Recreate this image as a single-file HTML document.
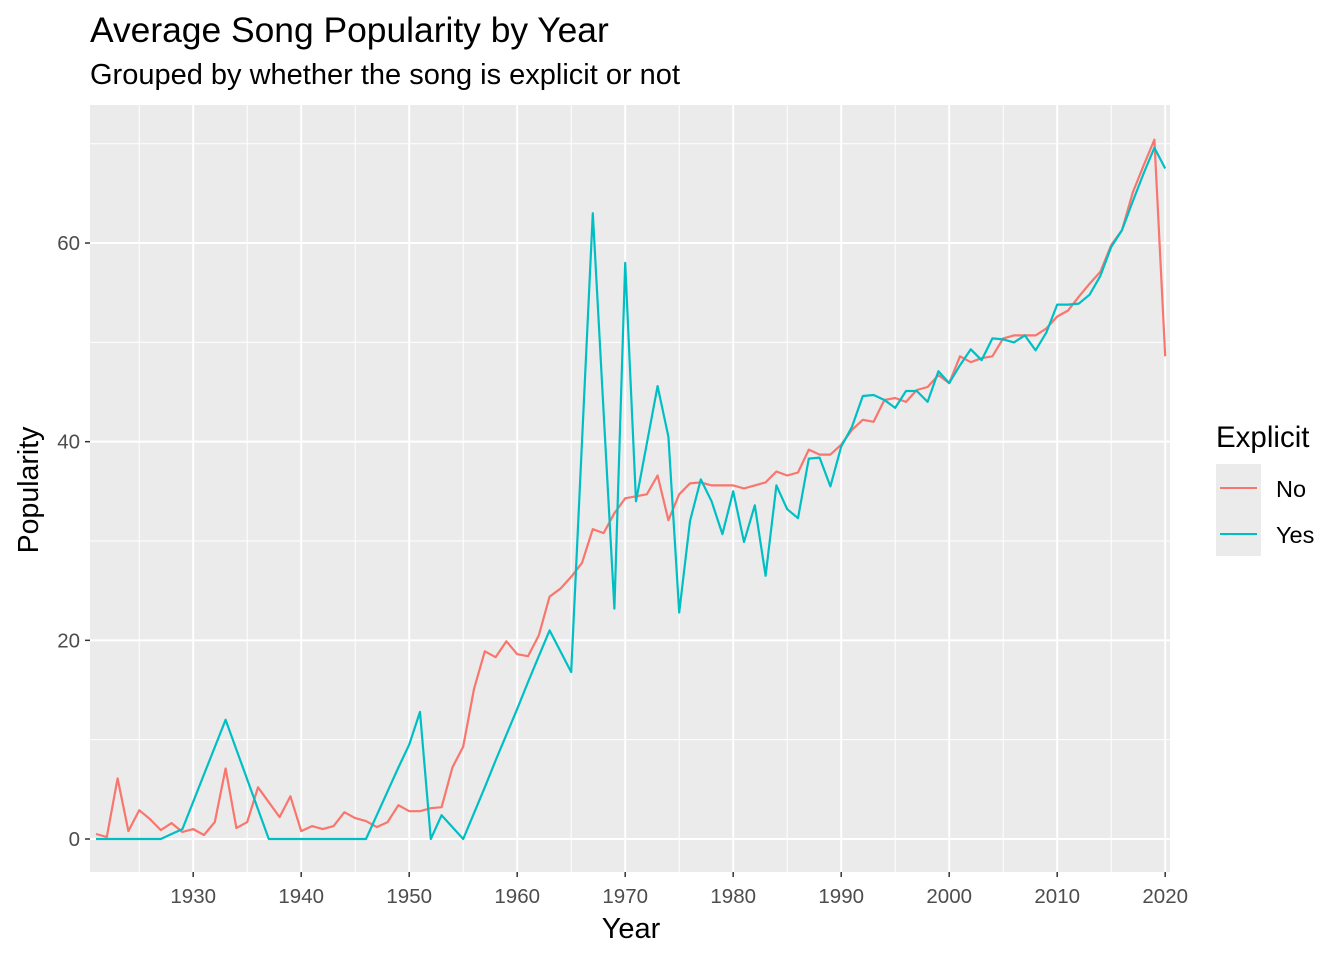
<!DOCTYPE html>
<html><head><meta charset="utf-8"><style>
body{margin:0;background:#fff;font-family:"Liberation Sans",sans-serif;}
</style></head><body>
<svg width="1344" height="960" xmlns="http://www.w3.org/2000/svg" font-family="Liberation Sans, sans-serif">
<text x="90" y="42" font-size="35.4" fill="#000">Average Song Popularity by Year</text>
<text x="90" y="84" font-size="29" fill="#000">Grouped by whether the song is explicit or not</text>
<rect x="90" y="105" width="1080" height="767" fill="#ebebeb"/>
<g id="grid"></g>
<g id="series"></g>
<g id="axes"></g>
<text x="631" y="938" font-size="29" text-anchor="middle">Year</text>
<text transform="translate(38,490) rotate(-90)" font-size="28.5" text-anchor="middle">Popularity</text>
<g>
<text x="1216" y="447" font-size="29.5">Explicit</text>
<rect x="1216" y="464" width="45" height="92" fill="#ebebeb"/>
<line x1="1220" y1="488" x2="1257" y2="488" stroke="#F8766D" stroke-width="2"/>
<line x1="1220" y1="534" x2="1257" y2="534" stroke="#00BFC4" stroke-width="2"/>
<text x="1276" y="497" font-size="23.5">No</text>
<text x="1276" y="543" font-size="23.5">Yes</text>
</g>
</svg>
<script>
const years=[];for(let y=1921;y<=2020;y++)years.push(y);
const noValues=[0.5,0.2,6.1,0.8,2.9,2.0,0.9,1.6,0.7,1.0,0.4,1.7,7.1,1.1,1.7,5.2,3.7,2.2,4.3,0.8,1.3,1.0,1.3,2.7,2.1,1.8,1.2,1.7,3.4,2.8,2.8,3.1,3.2,7.2,9.3,15.1,18.9,18.3,19.9,18.6,18.4,20.5,24.4,25.2,26.4,27.8,31.2,30.8,32.8,34.3,34.5,34.7,36.6,32.1,34.7,35.8,35.9,35.6,35.6,35.6,35.3,35.6,35.9,37.0,36.6,36.9,39.2,38.7,38.7,39.7,41.2,42.2,42.0,44.2,44.4,44.0,45.2,45.5,46.7,45.9,48.6,48.0,48.4,48.6,50.4,50.7,50.7,50.7,51.4,52.6,53.2,54.6,55.9,57.1,59.8,61.3,65.1,67.8,70.4,48.6];
const yesValues=[0,0,0,0,0,0,0,0.5,1.0,3.75,6.5,9.25,12,9,6,3,0,0,0,0,0,0,0,0,0,0,2.4,4.8,7.2,9.5,12.8,0,2.4,1.2,0,2.6,5.2,7.9,10.5,13.1,15.8,18.4,21,18.9,16.8,40,63,43,23.2,58,34,39.8,45.6,40.5,22.8,32,36.2,34,30.7,35,29.9,33.6,26.5,35.6,33.2,32.3,38.3,38.4,35.5,39.5,41.5,44.6,44.7,44.2,43.4,45.1,45.1,44,47.1,45.9,47.7,49.3,48.2,50.4,50.3,50,50.7,49.2,51,53.8,53.8,53.9,54.8,56.7,59.6,61.3,64.2,67,69.6,67.5];
const xTicks=[1930,1940,1950,1960,1970,1980,1990,2000,2010,2020];
const yTicks=[0,20,40,60];
const NS="http://www.w3.org/2000/svg";
const X=v=>96+(v-1921)*10.8;
const Y=v=>839-v*9.933;
function mk(tag,attrs,parent){const e=document.createElementNS(NS,tag);for(const k in attrs)e.setAttribute(k,attrs[k]);document.getElementById(parent).appendChild(e);return e;}
for(let i=0;i<xTicks.length;i++){const m=xTicks[i]-5;if(X(m)>90){const l=mk('line',{x1:X(m),x2:X(m),y1:105,y2:872,stroke:'#fff','stroke-width':1},'grid');

}}
for(let i=0;i<yTicks.length;i++){const m=yTicks[i]+10;const l=mk('line',{x1:90,x2:1170,y1:Y(m),y2:Y(m),stroke:'#fff','stroke-width':1},'grid');

}
for(const t of xTicks){const l=mk('line',{x1:X(t),x2:X(t),y1:105,y2:872,stroke:'#fff','stroke-width':2},'grid');


const tk=mk('line',{x1:X(t),x2:X(t),y1:872,y2:877,stroke:'#333','stroke-width':1.5},'axes');


const tx=mk('text',{x:X(t),y:903,'font-size':20.5,fill:'#4d4d4d','text-anchor':'middle'},'axes');tx.textContent=t;

}
for(const t of yTicks){const l=mk('line',{x1:90,x2:1170,y1:Y(t),y2:Y(t),stroke:'#fff','stroke-width':2},'grid');


const tk=mk('line',{x1:85,x2:90,y1:Y(t),y2:Y(t),stroke:'#333','stroke-width':1.5},'axes');


const tx=mk('text',{x:80,y:Y(t)+7,'font-size':20.5,fill:'#4d4d4d','text-anchor':'end'},'axes');tx.textContent=t;

}
function line(vals,color,name){const d=vals.map((v,i)=>(i?'L':'M')+X(years[i]).toFixed(1)+','+Y(v).toFixed(1)).join('');
const p=mk('path',{d:d,fill:'none',stroke:color,'stroke-width':2.2,'stroke-linejoin':'round'},'series');

}
line(noValues,'#F8766D','series-no-line');
line(yesValues,'#00BFC4','series-yes-line');
</script>
</body></html>
